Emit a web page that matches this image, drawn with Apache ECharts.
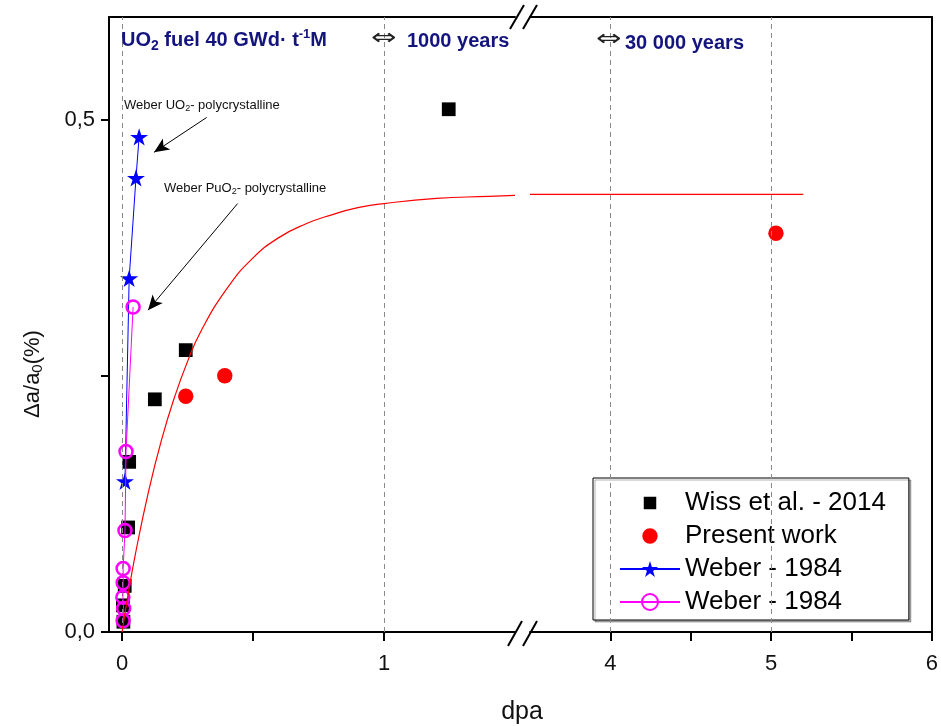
<!DOCTYPE html>
<html>
<head>
<meta charset="utf-8">
<script src="https://cdn.jsdelivr.net/npm/echarts@6/dist/echarts.min.js"></script>
<style>html,body{margin:0;padding:0;background:#fff;}#c{width:941px;height:726px;}</style>
</head>
<body>
<div id="c"></div>
<script>
// ---- data ----
const wissX = [0.005, 0.003, 0.010, 0.023, 0.027, 0.125, 0.243, 1.247];
const wissY = [0.010, 0.026, 0.045, 0.102, 0.166, 0.227, 0.275, 0.510];

const presentX = [0.243, 0.392, 5.03];
const presentY = [0.230, 0.250, 0.389];

const weberUO2X = [0.011, 0.027, 0.053, 0.065];
const weberUO2Y = [0.147, 0.345, 0.443, 0.483];

const weberPuO2X = [0.004, 0.006, 0.003, 0.004, 0.004, 0.011, 0.015, 0.042];
const weberPuO2Y = [0.011, 0.023, 0.034, 0.048, 0.062, 0.099, 0.176, 0.317];

// red fitted curve
const fitLeftX = [0, 0.02, 0.05, 0.1, 0.15, 0.2, 0.25, 0.3, 0.4, 0.5, 0.6, 0.7, 0.8, 0.9, 1.0, 1.2, 1.4, 1.5];
const fitLeftY = [0, 0.032, 0.075, 0.136, 0.187, 0.229, 0.264, 0.293, 0.335, 0.365, 0.385, 0.398, 0.407, 0.414, 0.418, 0.423, 0.425, 0.426];
const fitRightX = [3.5, 5.2];
const fitRightY = [0.427, 0.427];

const xTicksLeft = [0, 0.5, 1];
const xLabelsLeft = [0, 1];
const xTicksRight = [4, 4.5, 5, 5.5, 6];
const xLabelsRight = [4, 5, 6];
const yTicks = [0, 0.25, 0.5];
const yLabels = [0, 0.5];
const gridLinesLeft = [0, 1];
const gridLinesRight = [4, 5];

const legendNames = ['Wiss et al. - 2014', 'Present work', 'Weber - 1984', 'Weber - 1984 '];

// ---- chart ----
const zip = (xs, ys) => xs.map((x, i) => [x, ys[i]]);
const FONT = 'Liberation Sans, Arial, sans-serif';
const NAVY = '#14147f';
// symbol paths padded with invisible move-to points so the legend icon stays small
const SQUARE = 'path://M-3,-3 M13,13 M0,0 L10,0 L10,10 L0,10 Z';
const DOT = 'path://M-3,-3 M23,23 M0,10 A10,10 0 1,0 20,10 A10,10 0 1,0 0,10 Z';
const STAR = 'path://M0,-1 L0.2245,-0.309 L0.951,-0.309 L0.363,0.118 L0.588,0.809 L0,0.382 L-0.588,0.809 L-0.363,0.118 L-0.951,-0.309 L-0.2245,-0.309 Z';

const chart = echarts.init(document.getElementById('c'), null, {renderer: 'canvas'});

const baseX = (gi, min, max, ticks, labels) => ({
  type: 'value', gridIndex: gi, min: min, max: max, position: 'bottom',
  axisLine: {show: true, onZero: false, lineStyle: {color: '#000', width: 2}},
  axisTick: {show: true, inside: false, length: 9, customValues: ticks, lineStyle: {color: '#000', width: 2}},
  axisLabel: {show: true, customValues: labels, margin: 21, fontSize: 22, fontFamily: FONT, color: '#111',
              formatter: v => String(v)},
  splitLine: {show: false}
});
const topX = (gi, min, max) => ({
  type: 'value', gridIndex: gi, min: min, max: max, position: 'top',
  axisLine: {show: true, onZero: false, lineStyle: {color: '#000', width: 2}},
  axisTick: {show: false}, axisLabel: {show: false}, splitLine: {show: false}
});

const option = {
  backgroundColor: '#fff',
  animation: false,
  grid: [
    {left: 109, top: 17, width: 406, height: 615},
    {left: 530, top: 17, width: 407, height: 615}
  ],
  xAxis: [
    baseX(0, -0.05, 1.5, xTicksLeft, xLabelsLeft),
    baseX(1, 3.5, 6, xTicksRight, xLabelsRight),
    topX(0, -0.05, 1.5),
    topX(1, 3.5, 6)
  ],
  yAxis: [
    {type: 'value', gridIndex: 0, min: 0, max: 0.6, position: 'left',
     axisLine: {show: true, onZero: false, lineStyle: {color: '#000', width: 2}},
     axisTick: {show: true, length: 8, customValues: yTicks, lineStyle: {color: '#000', width: 2}},
     axisLabel: {show: true, customValues: yLabels, margin: 14, fontSize: 22, fontFamily: FONT, color: '#111',
                 formatter: v => v.toFixed(1).replace('.', ',')},
     splitLine: {show: false}},
    {type: 'value', gridIndex: 1, min: 0, max: 0.6, position: 'right',
     axisLine: {show: true, onZero: false, lineStyle: {color: '#000', width: 2}},
     axisTick: {show: false}, axisLabel: {show: false}, splitLine: {show: false}}
  ],
  legend: {
    orient: 'vertical', left: 593, top: 478,
    padding: [12, 23, 5, 26], itemGap: 7, itemWidth: 60, itemHeight: 20,
    borderColor: '#000', borderWidth: 1, backgroundColor: '#fff',
    shadowColor: 'rgba(0,0,0,0.3)', shadowOffsetX: 2, shadowOffsetY: 2, shadowBlur: 0,
    symbolKeepAspect: true,
    textStyle: {fontSize: 26, fontFamily: FONT, color: '#000'},
    data: legendNames,
    formatter: n => n.trim(),
    selectedMode: false
  },
  series: [
    {
      name: 'fit', type: 'line', xAxisIndex: 0, yAxisIndex: 0, z: 6,
      data: zip(fitLeftX, fitLeftY), smooth: true, showSymbol: false, symbol: 'none',
      lineStyle: {color: '#ff0000', width: 1.2}, silent: true,
      markLine: {
        silent: true, symbol: 'none', label: {show: false},
        lineStyle: {color: '#8a8a8a', type: [5, 4], width: 1},
        data: gridLinesLeft.map(v => ({xAxis: v}))
      }
    },
    {
      name: 'fit2', type: 'line', xAxisIndex: 1, yAxisIndex: 1, z: 6,
      data: zip(fitRightX, fitRightY), showSymbol: false, symbol: 'none',
      lineStyle: {color: '#ff0000', width: 1.2}, silent: true,
      markLine: {
        silent: true, symbol: 'none', label: {show: false},
        lineStyle: {color: '#8a8a8a', type: [5, 4], width: 1},
        data: gridLinesRight.map(v => ({xAxis: v}))
      }
    },
    {
      name: legendNames[0], type: 'scatter', xAxisIndex: 0, yAxisIndex: 0, z: 2,
      symbol: SQUARE, symbolKeepAspect: true, symbolSize: 22, itemStyle: {color: '#000', opacity: 1},
      data: zip(wissX, wissY)
    },
    {
      name: legendNames[1], type: 'scatter', xAxisIndex: 0, yAxisIndex: 0, z: 3,
      symbol: DOT, symbolKeepAspect: true, symbolSize: 20, itemStyle: {color: '#ff0000', opacity: 1},
      data: zip(presentX, presentY).filter(p => p[0] <= 1.5)
    },
    {
      name: legendNames[1], type: 'scatter', xAxisIndex: 1, yAxisIndex: 1, z: 3,
      symbol: DOT, symbolKeepAspect: true, symbolSize: 20, itemStyle: {color: '#ff0000', opacity: 1},
      data: zip(presentX, presentY).filter(p => p[0] >= 3.5)
    },
    {
      name: legendNames[2], type: 'line', xAxisIndex: 0, yAxisIndex: 0, z: 4,
      symbol: STAR, symbolKeepAspect: true,
      symbolSize: 18, showAllSymbol: true,
      itemStyle: {color: '#0000ff', opacity: 1}, lineStyle: {color: '#0000ff', width: 1},
      data: zip(weberUO2X, weberUO2Y),
      markLine: {
        silent: true, symbol: ['none', 'arrow'], symbolSize: [10, 15], label: {show: false},
        lineStyle: {color: '#000', type: 'solid', width: 1},
        data: [
          [{coord: [0.323, 0.502]}, {coord: [0.122, 0.468]}],
          [{coord: [0.441, 0.418]}, {coord: [0.099, 0.314]}]
        ]
      }
    },
    {
      name: legendNames[3], type: 'line', xAxisIndex: 0, yAxisIndex: 0, z: 5,
      symbol: 'circle', symbolSize: 13, showAllSymbol: true,
      itemStyle: {color: 'rgba(255,255,255,0)', borderColor: '#ff00ff', borderWidth: 2.5, opacity: 1},
      lineStyle: {color: '#ff00ff', width: 1},
      data: zip(weberPuO2X, weberPuO2Y)
    }
  ],
  graphic: [
    // y-axis title
    {type: 'text', x: 33, y: 374, rotation: Math.PI / 2, z: 10,
     style: {text: '{a|Δa/a}{s|0}{a|(%)}', align: 'center', verticalAlign: 'middle',
             rich: {a: {fontSize: 22, fontFamily: FONT, fill: '#111'},
                    s: {fontSize: 15, fontFamily: FONT, fill: '#111', padding: [10, 0, 0, 0]}}}},
    // x-axis title
    {type: 'text', x: 522, y: 712, z: 10,
     style: {text: 'dpa', align: 'center', verticalAlign: 'middle', fontSize: 25, fontFamily: FONT, fill: '#111'}},
    // top annotation
    {type: 'text', x: 121, y: 40, z: 10,
     style: {text: '{b|UO}{sub|2}{b| fuel 40 GWd· t}{sup|-1}{b|M}', verticalAlign: 'middle',
             rich: {b: {fontSize: 20, fontWeight: 'bold', fontFamily: FONT, fill: NAVY},
                    sub: {fontSize: 14, fontWeight: 'bold', fontFamily: FONT, fill: NAVY, padding: [12, 0, 0, 0]},
                    sup: {fontSize: 13, fontWeight: 'bold', fontFamily: FONT, fill: NAVY, padding: [0, 0, 12, 0]}}}},
    {type: 'text', x: 371, y: 39, z: 10, scaleX: 1.45, originX: 0, originY: 0,
     style: {text: '⇔', verticalAlign: 'middle', fontSize: 21, fontFamily: 'DejaVu Sans', fill: '#222'}},
    {type: 'text', x: 407, y: 41, z: 10,
     style: {text: '1000 years', verticalAlign: 'middle', fontSize: 20, fontWeight: 'bold', fontFamily: FONT, fill: NAVY}},
    {type: 'text', x: 596, y: 40, z: 10, scaleX: 1.45, originX: 0, originY: 0,
     style: {text: '⇔', verticalAlign: 'middle', fontSize: 21, fontFamily: 'DejaVu Sans', fill: '#222'}},
    {type: 'text', x: 625, y: 43, z: 10,
     style: {text: '30 000 years', verticalAlign: 'middle', fontSize: 20, fontWeight: 'bold', fontFamily: FONT, fill: NAVY}},
    // series annotations
    {type: 'text', x: 124, y: 105, z: 10,
     style: {text: '{a|Weber UO}{s|2}{a|- polycrystalline}', verticalAlign: 'middle',
             rich: {a: {fontSize: 13, fontFamily: FONT, fill: '#111'},
                    s: {fontSize: 9, fontFamily: FONT, fill: '#111', padding: [8, 0, 0, 0]}}}},
    {type: 'text', x: 164, y: 188, z: 10,
     style: {text: '{a|Weber PuO}{s|2}{a|- polycrystalline}', verticalAlign: 'middle',
             rich: {a: {fontSize: 13, fontFamily: FONT, fill: '#111'},
                    s: {fontSize: 9, fontFamily: FONT, fill: '#111', padding: [8, 0, 0, 0]}}}},
    // axis break marks
    {type: 'line', z: 20, shape: {x1: 510, y1: 29, x2: 524, y2: 5}, style: {stroke: '#000', lineWidth: 2}},
    {type: 'line', z: 20, shape: {x1: 523, y1: 29, x2: 537, y2: 5}, style: {stroke: '#000', lineWidth: 2}},
    {type: 'line', z: 20, shape: {x1: 508, y1: 646, x2: 522, y2: 621}, style: {stroke: '#000', lineWidth: 2}},
    {type: 'line', z: 20, shape: {x1: 523, y1: 646, x2: 537, y2: 621}, style: {stroke: '#000', lineWidth: 2}}
  ]
};
chart.setOption(option);
</script>
</body>
</html>
